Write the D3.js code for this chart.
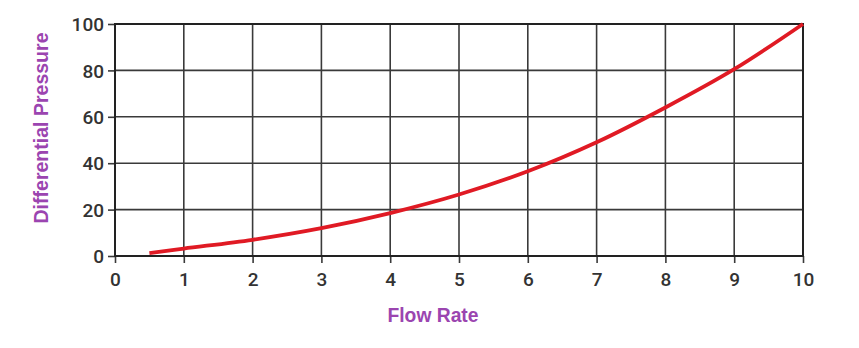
<!DOCTYPE html>
<html>
<head>
<meta charset="utf-8">
<script src="https://cdn.jsdelivr.net/npm/d3@7"></script>
<style>
  body { margin: 0; background: #fff; }
  .tick text { font-family: Roboto, sans-serif; font-weight: 500; font-size: 19px; fill: #333; }
  .axisLabel { font-family: "Liberation Sans", Arial, sans-serif; font-weight: bold; fill: #9b45b0; }
</style>
</head>
<body>
<div id="chart"></div>
<script>
// values
const flowRate = [0.5, 1, 2, 3, 4, 5, 6, 7, 8, 9, 10];
const pressure = [1.2, 3.2, 7, 12, 18.5, 26.5, 36.5, 49, 64, 80.5, 100];
const xTicks = [0, 1, 2, 3, 4, 5, 6, 7, 8, 9, 10];
const yTicks = [0, 20, 40, 60, 80, 100];

let margin = { top: 24, left: 115, right: 56, bottom: 92 },
  width = 859 - margin.left - margin.right,
  height = 348 - margin.top - margin.bottom;

let svg = d3.select('#chart')
  .append('svg')
    .attr('width', 859)
    .attr('height', 348);

let g = svg.append('g')
    .attr('transform', 'translate(' + margin.left + ',' + margin.top + ')');

let xScale = d3.scaleLinear().domain([0, 10]).range([0, width]);
let yScale = d3.scaleLinear().domain([0, 100]).range([height, 0]);

// grid
g.append('g')
  .selectAll('line')
  .data(xTicks)
  .enter().append('line')
    .attr('x1', d => xScale(d)).attr('x2', d => xScale(d))
    .attr('y1', 0).attr('y2', height)
    .attr('stroke', '#3a3a3a').attr('stroke-width', 1.6);

g.append('g')
  .selectAll('line')
  .data(yTicks)
  .enter().append('line')
    .attr('x1', 0).attr('x2', width)
    .attr('y1', d => yScale(d)).attr('y2', d => yScale(d))
    .attr('stroke', '#3a3a3a').attr('stroke-width', 1.6);

// axes
let xAxis = g.append('g')
    .attr('transform', 'translate(0,' + height + ')')
    .call(d3.axisBottom(xScale).tickValues(xTicks).tickSize(7).tickPadding(10).tickFormat(d3.format('d')));

let yAxis = g.append('g')
    .call(d3.axisLeft(yScale).tickValues(yTicks).tickSize(7).tickPadding(4).tickFormat(d3.format('d')));

[xAxis, yAxis].forEach(a => {
  a.select('.domain').remove();
  a.selectAll('.tick line').attr('stroke', '#3a3a3a').attr('stroke-width', 1.6);
});
yAxis.selectAll('.tick text').attr('dy', '0.35em');

// border
g.append('rect')
    .attr('width', width).attr('height', height)
    .attr('fill', 'none')
    .attr('stroke', '#222').attr('stroke-width', 2);

// curve
let data = flowRate.map((x, i) => [x, pressure[i]]);
let line = d3.line()
    .x(d => xScale(d[0]))
    .y(d => yScale(d[1]))
    .curve(d3.curveCatmullRom);

g.append('path')
    .datum(data)
    .attr('d', line)
    .attr('fill', 'none')
    .attr('stroke', '#e01a24')
    .attr('stroke-width', 3.8);

// labels
svg.append('text')
    .attr('class', 'axisLabel')
    .attr('x', 433).attr('y', 322)
    .attr('text-anchor', 'middle')
    .attr('font-size', 20)
    .attr('textLength', 91)
    .attr('lengthAdjust', 'spacingAndGlyphs')
    .text('Flow Rate');

svg.append('text')
    .attr('class', 'axisLabel')
    .attr('transform', 'translate(48,128) rotate(-90)')
    .attr('text-anchor', 'middle')
    .attr('font-size', 20)
    .attr('textLength', 191)
    .attr('lengthAdjust', 'spacingAndGlyphs')
    .text('Differential Pressure');
</script>
</body>
</html>
